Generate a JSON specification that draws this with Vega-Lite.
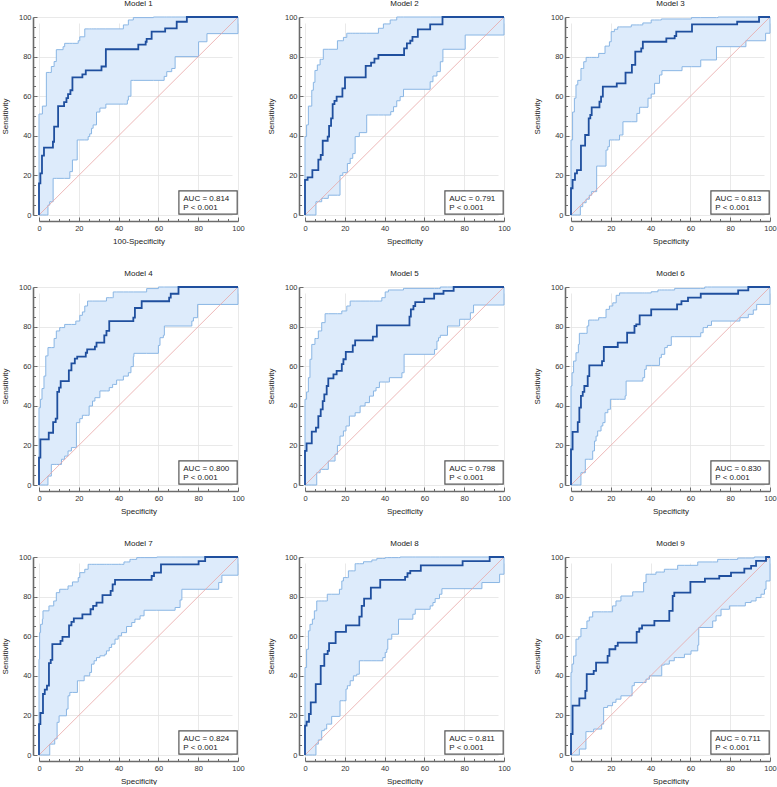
{
  "$schema": "https://vega.github.io/schema/vega-lite/v6.json",
  "autosize": {"type": "pad"},
  "padding": {"left": 1, "top": 0, "right": 0, "bottom": 0},
  "background": "white",
  "datasets": {
    "auc": [
      {"model": 1, "auc": "AUC = 0.814", "p": "P < 0.001"},
      {"model": 2, "auc": "AUC = 0.791", "p": "P < 0.001"},
      {"model": 3, "auc": "AUC = 0.813", "p": "P < 0.001"},
      {"model": 4, "auc": "AUC = 0.800", "p": "P < 0.001"},
      {"model": 5, "auc": "AUC = 0.798", "p": "P < 0.001"},
      {"model": 6, "auc": "AUC = 0.830", "p": "P < 0.001"},
      {"model": 7, "auc": "AUC = 0.824", "p": "P < 0.001"},
      {"model": 8, "auc": "AUC = 0.811", "p": "P < 0.001"},
      {"model": 9, "auc": "AUC = 0.711", "p": "P < 0.001"}
    ],
    "roc": [
      {"model":1,"x":0,"y":0},{"model":1,"x":0,"y":16},{"model":1,"x":0.7,"y":21},{"model":1,"x":1.5,"y":30},{"model":1,"x":2.5,"y":34},{"model":1,"x":7,"y":37},{"model":1,"x":7.6,"y":44.6},{"model":1,"x":9.6,"y":55},{"model":1,"x":12.6,"y":57},{"model":1,"x":13.8,"y":59},{"model":1,"x":14.6,"y":61},{"model":1,"x":15.8,"y":63},{"model":1,"x":16.8,"y":69.5},{"model":1,"x":21.8,"y":71},{"model":1,"x":23.5,"y":73},{"model":1,"x":31.4,"y":75},{"model":1,"x":33.6,"y":83.7},{"model":1,"x":49.9,"y":86},{"model":1,"x":53.6,"y":87.5},{"model":1,"x":54.1,"y":89},{"model":1,"x":56.6,"y":92.6},{"model":1,"x":63.4,"y":94.3},{"model":1,"x":69.2,"y":97.6},{"model":1,"x":74.3,"y":100},{"model":1,"x":100,"y":100},
      {"model":2,"x":0,"y":0},{"model":2,"x":0,"y":17.7},{"model":2,"x":1.3,"y":19},{"model":2,"x":3.7,"y":22.7},{"model":2,"x":6.7,"y":28},{"model":2,"x":7.9,"y":30.3},{"model":2,"x":8.9,"y":37.5},{"model":2,"x":11.4,"y":39.6},{"model":2,"x":12.1,"y":45},{"model":2,"x":13.1,"y":48.8},{"model":2,"x":13.9,"y":56},{"model":2,"x":14.8,"y":57.6},{"model":2,"x":15.9,"y":59.8},{"model":2,"x":18.8,"y":64},{"model":2,"x":20.1,"y":69.5},{"model":2,"x":30.5,"y":75.3},{"model":2,"x":33.2,"y":77},{"model":2,"x":34.9,"y":79},{"model":2,"x":36.9,"y":80.8},{"model":2,"x":49.8,"y":84.2},{"model":2,"x":51.2,"y":86.7},{"model":2,"x":52.9,"y":88},{"model":2,"x":54,"y":90},{"model":2,"x":56.7,"y":93.8},{"model":2,"x":62.9,"y":96.3},{"model":2,"x":69.1,"y":100},{"model":2,"x":100,"y":100},
      {"model":3,"x":0,"y":0},{"model":3,"x":0,"y":13.5},{"model":3,"x":0.8,"y":17.7},{"model":3,"x":2,"y":21},{"model":3,"x":3,"y":22.7},{"model":3,"x":5,"y":35},{"model":3,"x":7.1,"y":40.4},{"model":3,"x":8.9,"y":48.8},{"model":3,"x":9.7,"y":50.5},{"model":3,"x":10.4,"y":54.4},{"model":3,"x":14.3,"y":57.2},{"model":3,"x":15.1,"y":59.8},{"model":3,"x":16,"y":64.8},{"model":3,"x":23,"y":66.5},{"model":3,"x":27.4,"y":71.9},{"model":3,"x":30.6,"y":75.8},{"model":3,"x":32.3,"y":82.5},{"model":3,"x":35.3,"y":84.2},{"model":3,"x":36.1,"y":87.5},{"model":3,"x":47.9,"y":89.2},{"model":3,"x":52.1,"y":90.4},{"model":3,"x":52.9,"y":92.6},{"model":3,"x":60.8,"y":96.3},{"model":3,"x":83.5,"y":97.6},{"model":3,"x":94.5,"y":100},{"model":3,"x":100,"y":100},
      {"model":4,"x":0,"y":0},{"model":4,"x":0,"y":13.8},{"model":4,"x":0.7,"y":23},{"model":4,"x":4.9,"y":26.4},{"model":4,"x":7.1,"y":31.8},{"model":4,"x":8.4,"y":33.5},{"model":4,"x":9.2,"y":47},{"model":4,"x":10.1,"y":49.2},{"model":4,"x":10.9,"y":52.5},{"model":4,"x":15,"y":57.9},{"model":4,"x":16.3,"y":61.4},{"model":4,"x":18,"y":63.8},{"model":4,"x":19.2,"y":64.8},{"model":4,"x":23.5,"y":66.8},{"model":4,"x":24.2,"y":68.5},{"model":4,"x":28.1,"y":69.9},{"model":4,"x":28.9,"y":71.9},{"model":4,"x":32.8,"y":75.6},{"model":4,"x":33.9,"y":77.8},{"model":4,"x":35.3,"y":82.8},{"model":4,"x":47.4,"y":84.5},{"model":4,"x":48.2,"y":89.4},{"model":4,"x":51.6,"y":92.8},{"model":4,"x":65.4,"y":94.6},{"model":4,"x":66.2,"y":96.6},{"model":4,"x":70.1,"y":100},{"model":4,"x":100,"y":100},
      {"model":5,"x":0,"y":0},{"model":5,"x":0,"y":17.2},{"model":5,"x":0.8,"y":21},{"model":5,"x":3.4,"y":27},{"model":5,"x":5.5,"y":29},{"model":5,"x":6.7,"y":34.8},{"model":5,"x":7.9,"y":38.2},{"model":5,"x":8.9,"y":42.4},{"model":5,"x":9.7,"y":45.8},{"model":5,"x":10.9,"y":50},{"model":5,"x":11.7,"y":53.9},{"model":5,"x":14.3,"y":55.9},{"model":5,"x":15.9,"y":57.6},{"model":5,"x":18.5,"y":61},{"model":5,"x":19.3,"y":63.5},{"model":5,"x":20.5,"y":67.2},{"model":5,"x":24,"y":70.5},{"model":5,"x":25.2,"y":73},{"model":5,"x":34.1,"y":74.9},{"model":5,"x":36.1,"y":80.6},{"model":5,"x":52.5,"y":85},{"model":5,"x":53.2,"y":88.7},{"model":5,"x":54.5,"y":90.4},{"model":5,"x":55.4,"y":92.4},{"model":5,"x":59.9,"y":94.1},{"model":5,"x":64.9,"y":96.6},{"model":5,"x":69.6,"y":98},{"model":5,"x":74.7,"y":100},{"model":5,"x":100,"y":100},
      {"model":6,"x":0,"y":0},{"model":6,"x":0,"y":18},{"model":6,"x":0.8,"y":26.8},{"model":6,"x":3.4,"y":31.8},{"model":6,"x":4.2,"y":39.1},{"model":6,"x":5,"y":45},{"model":6,"x":5.9,"y":47},{"model":6,"x":6.7,"y":50},{"model":6,"x":8.4,"y":55},{"model":6,"x":9.2,"y":60.4},{"model":6,"x":15.6,"y":62.6},{"model":6,"x":16.5,"y":69.7},{"model":6,"x":23.5,"y":71.9},{"model":6,"x":28.2,"y":76.9},{"model":6,"x":31.9,"y":80.3},{"model":6,"x":32.8,"y":81.1},{"model":6,"x":34.5,"y":85.7},{"model":6,"x":40.3,"y":88.7},{"model":6,"x":53.3,"y":91.2},{"model":6,"x":55.5,"y":92.9},{"model":6,"x":58.8,"y":94.6},{"model":6,"x":65.2,"y":96.6},{"model":6,"x":84,"y":98.3},{"model":6,"x":89.1,"y":100},{"model":6,"x":100,"y":100},
      {"model":7,"x":0,"y":0},{"model":7,"x":0,"y":15.6},{"model":7,"x":0.7,"y":21.2},{"model":7,"x":2,"y":30.8},{"model":7,"x":2.9,"y":33},{"model":7,"x":4,"y":35},{"model":7,"x":5,"y":46.4},{"model":7,"x":5.9,"y":48},{"model":7,"x":6.7,"y":56},{"model":7,"x":10.8,"y":57.6},{"model":7,"x":11.8,"y":59.7},{"model":7,"x":15.1,"y":65.5},{"model":7,"x":16.3,"y":67.2},{"model":7,"x":17.5,"y":69},{"model":7,"x":21.8,"y":71},{"model":7,"x":25.9,"y":73.6},{"model":7,"x":27.2,"y":75.3},{"model":7,"x":28.9,"y":77},{"model":7,"x":31.9,"y":80.7},{"model":7,"x":36,"y":82.9},{"model":7,"x":37,"y":86.2},{"model":7,"x":38.2,"y":88.4},{"model":7,"x":56.6,"y":90.4},{"model":7,"x":57.8,"y":92.1},{"model":7,"x":61.3,"y":96.3},{"model":7,"x":80.2,"y":97.9},{"model":7,"x":83.5,"y":100},{"model":7,"x":100,"y":100},
      {"model":8,"x":0,"y":0},{"model":8,"x":0,"y":14.8},{"model":8,"x":0.8,"y":16.8},{"model":8,"x":2,"y":20.7},{"model":8,"x":2.9,"y":26.6},{"model":8,"x":5.4,"y":35.8},{"model":8,"x":7.9,"y":45},{"model":8,"x":9.7,"y":50.9},{"model":8,"x":11.4,"y":52.6},{"model":8,"x":12.1,"y":56.5},{"model":8,"x":15.4,"y":62.2},{"model":8,"x":20.6,"y":65.5},{"model":8,"x":27.3,"y":69.9},{"model":8,"x":28.5,"y":75.3},{"model":8,"x":29.7,"y":79},{"model":8,"x":33.1,"y":84.5},{"model":8,"x":37.8,"y":88.4},{"model":8,"x":50.3,"y":90},{"model":8,"x":51.5,"y":91.8},{"model":8,"x":52.9,"y":93},{"model":8,"x":58.2,"y":95.8},{"model":8,"x":79.2,"y":97.9},{"model":8,"x":92.8,"y":100},{"model":8,"x":100,"y":100},
      {"model":9,"x":0,"y":0},{"model":9,"x":0,"y":10.6},{"model":9,"x":0.8,"y":24.9},{"model":9,"x":4.2,"y":28.6},{"model":9,"x":7.2,"y":32.4},{"model":9,"x":7.9,"y":40.8},{"model":9,"x":11.4,"y":42.5},{"model":9,"x":12.6,"y":46.7},{"model":9,"x":18.4,"y":50.1},{"model":9,"x":19.3,"y":53.4},{"model":9,"x":22.3,"y":55.1},{"model":9,"x":23.5,"y":56.8},{"model":9,"x":33,"y":62.2},{"model":9,"x":34.3,"y":63.9},{"model":9,"x":35.7,"y":65.5},{"model":9,"x":41.9,"y":67.7},{"model":9,"x":49.4,"y":72.8},{"model":9,"x":51.1,"y":80.3},{"model":9,"x":51.9,"y":82},{"model":9,"x":60,"y":87.4},{"model":9,"x":67.3,"y":89.1},{"model":9,"x":74.5,"y":90.4},{"model":9,"x":80.4,"y":92.1},{"model":9,"x":87.1,"y":94.1},{"model":9,"x":90.5,"y":95.5},{"model":9,"x":93,"y":98},{"model":9,"x":98,"y":100},{"model":9,"x":100,"y":100}
    ],
    "ci": [
      {"model":1,"x":0,"upper":0,"lower":0},{"model":1,"x":0,"upper":51,"lower":0},{"model":1,"x":1.7,"upper":55,"lower":0},{"model":1,"x":3.7,"upper":72,"lower":0},{"model":1,"x":4.5,"upper":72,"lower":5},{"model":1,"x":5.4,"upper":72,"lower":6.7},{"model":1,"x":6.2,"upper":75,"lower":6.7},{"model":1,"x":7.1,"upper":75,"lower":18.5},{"model":1,"x":7.6,"upper":77.5,"lower":18.5},{"model":1,"x":8.7,"upper":83.5,"lower":18.5},{"model":1,"x":12.1,"upper":85,"lower":18.5},{"model":1,"x":12.9,"upper":86.7,"lower":18.5},{"model":1,"x":15.5,"upper":86.7,"lower":21.9},{"model":1,"x":16.8,"upper":86.7,"lower":27.8},{"model":1,"x":19.2,"upper":86.7,"lower":37.9},{"model":1,"x":19.7,"upper":88,"lower":37.9},{"model":1,"x":20.5,"upper":90,"lower":37.9},{"model":1,"x":23,"upper":94,"lower":37.9},{"model":1,"x":24.7,"upper":94,"lower":39.6},{"model":1,"x":25.5,"upper":94,"lower":41},{"model":1,"x":26.4,"upper":94,"lower":43.8},{"model":1,"x":27.2,"upper":94,"lower":45.5},{"model":1,"x":28.9,"upper":94,"lower":52},{"model":1,"x":30.6,"upper":94,"lower":54},{"model":1,"x":33.6,"upper":94,"lower":56},{"model":1,"x":42.4,"upper":96,"lower":56},{"model":1,"x":44.4,"upper":96,"lower":58},{"model":1,"x":44.9,"upper":98.5,"lower":60},{"model":1,"x":46.2,"upper":98.5,"lower":68},{"model":1,"x":47.4,"upper":99.7,"lower":68},{"model":1,"x":57.5,"upper":100,"lower":68},{"model":1,"x":62.9,"upper":100,"lower":70},{"model":1,"x":64.2,"upper":100,"lower":72.4},{"model":1,"x":66.7,"upper":100,"lower":74},{"model":1,"x":68.4,"upper":100,"lower":80},{"model":1,"x":80.2,"upper":100,"lower":87.5},{"model":1,"x":84.4,"upper":100,"lower":91.6},{"model":1,"x":100,"upper":100,"lower":100},
      {"model":2,"x":0,"upper":0,"lower":0},{"model":2,"x":0,"upper":39.6,"lower":0},{"model":2,"x":0.8,"upper":45.5,"lower":0},{"model":2,"x":1.7,"upper":55,"lower":0},{"model":2,"x":3.4,"upper":63,"lower":0},{"model":2,"x":4.2,"upper":67,"lower":0},{"model":2,"x":5,"upper":73,"lower":0},{"model":2,"x":5.5,"upper":73,"lower":6.7},{"model":2,"x":6.2,"upper":75.8,"lower":6.7},{"model":2,"x":7.6,"upper":78.6,"lower":6.7},{"model":2,"x":8.4,"upper":78.6,"lower":8.4},{"model":2,"x":9.2,"upper":83.7,"lower":8.4},{"model":2,"x":11.7,"upper":83.7,"lower":10},{"model":2,"x":16.3,"upper":88,"lower":10},{"model":2,"x":17.6,"upper":88,"lower":20},{"model":2,"x":19,"upper":88,"lower":21.4},{"model":2,"x":19.3,"upper":89.7,"lower":21.4},{"model":2,"x":21,"upper":91.8,"lower":21.4},{"model":2,"x":21.3,"upper":91.8,"lower":26},{"model":2,"x":22.7,"upper":91.8,"lower":28.6},{"model":2,"x":24,"upper":91.8,"lower":31},{"model":2,"x":25.2,"upper":91.8,"lower":39.6},{"model":2,"x":27.3,"upper":91.8,"lower":41.6},{"model":2,"x":31,"upper":91.8,"lower":50.5},{"model":2,"x":36.9,"upper":94.3,"lower":50.5},{"model":2,"x":39.4,"upper":96.5,"lower":50.5},{"model":2,"x":42.8,"upper":98.5,"lower":50.5},{"model":2,"x":43.1,"upper":98.5,"lower":52.2},{"model":2,"x":44.5,"upper":98.5,"lower":54.7},{"model":2,"x":46.1,"upper":100,"lower":57.7},{"model":2,"x":47.8,"upper":100,"lower":59.8},{"model":2,"x":49.5,"upper":100,"lower":63.5},{"model":2,"x":62.9,"upper":100,"lower":67.3},{"model":2,"x":64.3,"upper":100,"lower":70.2},{"model":2,"x":66.3,"upper":100,"lower":72.4},{"model":2,"x":68,"upper":100,"lower":77.4},{"model":2,"x":69.3,"upper":100,"lower":83.7},{"model":2,"x":80.5,"upper":100,"lower":90.9},{"model":2,"x":100,"upper":100,"lower":100},
      {"model":3,"x":0,"upper":0,"lower":0},{"model":3,"x":0,"upper":37.9,"lower":0},{"model":3,"x":0.8,"upper":52,"lower":0},{"model":3,"x":1.7,"upper":59,"lower":0},{"model":3,"x":2.5,"upper":65.7,"lower":0},{"model":3,"x":3.4,"upper":68,"lower":0},{"model":3,"x":4.7,"upper":68,"lower":4.2},{"model":3,"x":5,"upper":74,"lower":4.2},{"model":3,"x":5.9,"upper":74,"lower":6.2},{"model":3,"x":6.4,"upper":77.4,"lower":6.2},{"model":3,"x":7.6,"upper":79.6,"lower":8},{"model":3,"x":9.2,"upper":79.6,"lower":10},{"model":3,"x":10.4,"upper":79.6,"lower":11.8},{"model":3,"x":12.9,"upper":79.6,"lower":24.7},{"model":3,"x":13.9,"upper":81.6,"lower":24.7},{"model":3,"x":17.1,"upper":85.3,"lower":24.7},{"model":3,"x":17.6,"upper":85.3,"lower":32.8},{"model":3,"x":18.5,"upper":85.3,"lower":34.5},{"model":3,"x":19.3,"upper":87.5,"lower":37.9},{"model":3,"x":20.2,"upper":92.6,"lower":37.9},{"model":3,"x":21.8,"upper":93.8,"lower":37.9},{"model":3,"x":23.5,"upper":95,"lower":37.9},{"model":3,"x":24.4,"upper":95,"lower":40.4},{"model":3,"x":26.1,"upper":95,"lower":47.1},{"model":3,"x":30.3,"upper":96,"lower":47.1},{"model":3,"x":33.1,"upper":96,"lower":51.3},{"model":3,"x":34.5,"upper":96,"lower":54.4},{"model":3,"x":36.1,"upper":97,"lower":54.4},{"model":3,"x":38.7,"upper":97,"lower":59},{"model":3,"x":40.3,"upper":98.5,"lower":61.1},{"model":3,"x":42,"upper":98.5,"lower":66.5},{"model":3,"x":44.5,"upper":98.5,"lower":70.7},{"model":3,"x":45.4,"upper":99,"lower":70.7},{"model":3,"x":45.7,"upper":99,"lower":72.9},{"model":3,"x":55.8,"upper":99,"lower":74.9},{"model":3,"x":60.5,"upper":99.7,"lower":74.9},{"model":3,"x":65.2,"upper":99.7,"lower":78.3},{"model":3,"x":73.1,"upper":99.7,"lower":85},{"model":3,"x":73.9,"upper":100,"lower":85},{"model":3,"x":87.9,"upper":100,"lower":88},{"model":3,"x":97.8,"upper":100,"lower":91.8},{"model":3,"x":100,"upper":100,"lower":100},
      {"model":4,"x":0,"upper":0,"lower":0},{"model":4,"x":0,"upper":39,"lower":0},{"model":4,"x":0.7,"upper":43.3,"lower":0},{"model":4,"x":1.5,"upper":48.7,"lower":0},{"model":4,"x":2.5,"upper":55,"lower":0},{"model":4,"x":3.4,"upper":65.2,"lower":0},{"model":4,"x":4.5,"upper":69.4,"lower":4.5},{"model":4,"x":6.2,"upper":69.4,"lower":10.4},{"model":4,"x":7.6,"upper":74,"lower":10.4},{"model":4,"x":8.7,"upper":77.8,"lower":10.4},{"model":4,"x":10.4,"upper":79.5,"lower":10.4},{"model":4,"x":11.3,"upper":79.5,"lower":13},{"model":4,"x":12.9,"upper":81.1,"lower":14.6},{"model":4,"x":14.6,"upper":81.1,"lower":17.2},{"model":4,"x":16.3,"upper":81.1,"lower":18.9},{"model":4,"x":18.5,"upper":82.8,"lower":18.9},{"model":4,"x":18.8,"upper":82.8,"lower":31.5},{"model":4,"x":20.5,"upper":85.7,"lower":33.5},{"model":4,"x":21.8,"upper":87.4,"lower":35.2},{"model":4,"x":23,"upper":90.4,"lower":35.2},{"model":4,"x":24.4,"upper":92.9,"lower":35.2},{"model":4,"x":25.2,"upper":92.9,"lower":39.9},{"model":4,"x":26.9,"upper":92.9,"lower":42.4},{"model":4,"x":28.1,"upper":92.9,"lower":44.1},{"model":4,"x":30.6,"upper":92.9,"lower":47.5},{"model":4,"x":33.9,"upper":94.6,"lower":47.5},{"model":4,"x":35.3,"upper":94.6,"lower":49.2},{"model":4,"x":37,"upper":94.6,"lower":50.8},{"model":4,"x":37.3,"upper":97.5,"lower":50.8},{"model":4,"x":39,"upper":97.5,"lower":53},{"model":4,"x":42.4,"upper":97.5,"lower":55},{"model":4,"x":44.9,"upper":97.5,"lower":56.7},{"model":4,"x":46.2,"upper":97.5,"lower":59.8},{"model":4,"x":47.4,"upper":97.5,"lower":64.8},{"model":4,"x":47.7,"upper":97.5,"lower":66.5},{"model":4,"x":54.1,"upper":99.2,"lower":66.5},{"model":4,"x":60,"upper":100,"lower":70.5},{"model":4,"x":60.8,"upper":100,"lower":74.4},{"model":4,"x":62.5,"upper":100,"lower":75.6},{"model":4,"x":63,"upper":100,"lower":80.3},{"model":4,"x":76.8,"upper":100,"lower":82.8},{"model":4,"x":77.6,"upper":100,"lower":84.5},{"model":4,"x":79.7,"upper":100,"lower":91.2},{"model":4,"x":100,"upper":100,"lower":100},
      {"model":5,"x":0,"upper":0,"lower":0},{"model":5,"x":0,"upper":43.3,"lower":0},{"model":5,"x":0.8,"upper":47,"lower":0},{"model":5,"x":1.7,"upper":54.2,"lower":0},{"model":5,"x":2.5,"upper":63.5,"lower":0},{"model":5,"x":3.4,"upper":71,"lower":0},{"model":5,"x":5,"upper":74,"lower":0},{"model":5,"x":5.9,"upper":74,"lower":6.2},{"model":5,"x":6.7,"upper":77.8,"lower":6.2},{"model":5,"x":7.6,"upper":77.8,"lower":7.9},{"model":5,"x":8.4,"upper":82,"lower":7.9},{"model":5,"x":10.1,"upper":86.5,"lower":7.9},{"model":5,"x":11.7,"upper":86.5,"lower":12.1},{"model":5,"x":15.1,"upper":86.5,"lower":15.5},{"model":5,"x":16.3,"upper":86.5,"lower":20},{"model":5,"x":17.6,"upper":86.5,"lower":24.7},{"model":5,"x":18.5,"upper":87.9,"lower":24.7},{"model":5,"x":19.3,"upper":87.9,"lower":27.3},{"model":5,"x":20.6,"upper":87.9,"lower":29.8},{"model":5,"x":21,"upper":90.4,"lower":29.8},{"model":5,"x":22.3,"upper":90.4,"lower":34.8},{"model":5,"x":22.7,"upper":92.9,"lower":34.8},{"model":5,"x":25.2,"upper":92.9,"lower":36.5},{"model":5,"x":27.7,"upper":92.9,"lower":39.9},{"model":5,"x":30.2,"upper":92.9,"lower":41.6},{"model":5,"x":32.4,"upper":92.9,"lower":44.9},{"model":5,"x":34.4,"upper":92.9,"lower":47.5},{"model":5,"x":35.7,"upper":92.9,"lower":49.2},{"model":5,"x":37.4,"upper":92.9,"lower":52},{"model":5,"x":38.6,"upper":94.6,"lower":52},{"model":5,"x":40.3,"upper":97.5,"lower":52},{"model":5,"x":41.9,"upper":98.5,"lower":52},{"model":5,"x":42.4,"upper":98.5,"lower":54.2},{"model":5,"x":48.7,"upper":98.5,"lower":56.7},{"model":5,"x":49.5,"upper":99.3,"lower":56.7},{"model":5,"x":49.8,"upper":99.3,"lower":66},{"model":5,"x":65.1,"upper":99.3,"lower":68.5},{"model":5,"x":66.3,"upper":99.3,"lower":72.7},{"model":5,"x":67.1,"upper":99.3,"lower":74.4},{"model":5,"x":68,"upper":100,"lower":75.6},{"model":5,"x":71.6,"upper":100,"lower":80.3},{"model":5,"x":77.7,"upper":100,"lower":83.7},{"model":5,"x":83.1,"upper":100,"lower":87},{"model":5,"x":84.7,"upper":100,"lower":90.9},{"model":5,"x":100,"upper":100,"lower":100},
      {"model":6,"x":0,"upper":0,"lower":0},{"model":6,"x":0,"upper":50,"lower":0},{"model":6,"x":0.5,"upper":56.7,"lower":0},{"model":6,"x":1.3,"upper":62.6,"lower":0},{"model":6,"x":2.5,"upper":66.8,"lower":0},{"model":6,"x":3.7,"upper":71,"lower":0},{"model":6,"x":4.2,"upper":76.6,"lower":0},{"model":6,"x":5,"upper":76.6,"lower":6.2},{"model":6,"x":7.2,"upper":76.6,"lower":13},{"model":6,"x":8.1,"upper":80.3,"lower":13},{"model":6,"x":8.9,"upper":83.3,"lower":13},{"model":6,"x":10.9,"upper":83.3,"lower":17.2},{"model":6,"x":11.8,"upper":83.3,"lower":22.2},{"model":6,"x":12.6,"upper":83.3,"lower":24.7},{"model":6,"x":13.4,"upper":83.3,"lower":27.3},{"model":6,"x":13.9,"upper":84.5,"lower":27.3},{"model":6,"x":15.1,"upper":84.5,"lower":29.8},{"model":6,"x":16,"upper":84.5,"lower":31.5},{"model":6,"x":17.1,"upper":84.5,"lower":36.5},{"model":6,"x":17.6,"upper":88.7,"lower":36.5},{"model":6,"x":18.5,"upper":88.7,"lower":38.2},{"model":6,"x":19.3,"upper":90.4,"lower":38.2},{"model":6,"x":19.8,"upper":90.4,"lower":43.3},{"model":6,"x":21,"upper":92,"lower":43.3},{"model":6,"x":22.7,"upper":95.8,"lower":43.3},{"model":6,"x":24.4,"upper":97,"lower":43.3},{"model":6,"x":27.2,"upper":97,"lower":45},{"model":6,"x":27.7,"upper":97,"lower":52.5},{"model":6,"x":36.1,"upper":97,"lower":54.2},{"model":6,"x":37,"upper":97,"lower":58.4},{"model":6,"x":37.8,"upper":97,"lower":60.4},{"model":6,"x":40.3,"upper":97.6,"lower":60.4},{"model":6,"x":43.7,"upper":98.5,"lower":60.4},{"model":6,"x":44.5,"upper":98.5,"lower":64.3},{"model":6,"x":45.4,"upper":98.5,"lower":66},{"model":6,"x":47.1,"upper":98.5,"lower":69.4},{"model":6,"x":48.4,"upper":98.5,"lower":70.5},{"model":6,"x":50.4,"upper":98.5,"lower":74.9},{"model":6,"x":52.1,"upper":99.3,"lower":74.9},{"model":6,"x":65.2,"upper":99.3,"lower":76.9},{"model":6,"x":66.4,"upper":99.3,"lower":79.5},{"model":6,"x":67.2,"upper":100,"lower":79.5},{"model":6,"x":68.6,"upper":100,"lower":80.6},{"model":6,"x":70.6,"upper":100,"lower":82.8},{"model":6,"x":84.9,"upper":100,"lower":84.5},{"model":6,"x":89.1,"upper":100,"lower":86.2},{"model":6,"x":91.6,"upper":100,"lower":88.4},{"model":6,"x":93.3,"upper":100,"lower":91.2},{"model":6,"x":100,"upper":100,"lower":100},
      {"model":7,"x":0,"upper":0,"lower":0},{"model":7,"x":0,"upper":48.4,"lower":0},{"model":7,"x":0.3,"upper":61.8,"lower":0},{"model":7,"x":0.8,"upper":66,"lower":0},{"model":7,"x":1.7,"upper":68.6,"lower":0},{"model":7,"x":2,"upper":72.8,"lower":0},{"model":7,"x":5,"upper":75.3,"lower":0},{"model":7,"x":5.4,"upper":75.3,"lower":5.5},{"model":7,"x":7.4,"upper":77.8,"lower":5.5},{"model":7,"x":7.9,"upper":77.8,"lower":8.1},{"model":7,"x":8.7,"upper":82,"lower":8.1},{"model":7,"x":9.1,"upper":82,"lower":16.5},{"model":7,"x":10.1,"upper":82,"lower":19.8},{"model":7,"x":10.4,"upper":83.7,"lower":19.8},{"model":7,"x":13.8,"upper":83.7,"lower":23.2},{"model":7,"x":14.6,"upper":85.4,"lower":29.9},{"model":7,"x":15.5,"upper":85.4,"lower":31.6},{"model":7,"x":16.8,"upper":87.4,"lower":31.6},{"model":7,"x":19.3,"upper":87.4,"lower":37.5},{"model":7,"x":19.7,"upper":89.6,"lower":37.5},{"model":7,"x":20.5,"upper":92.1,"lower":37.5},{"model":7,"x":22.7,"upper":92.1,"lower":40},{"model":7,"x":23,"upper":93.8,"lower":40},{"model":7,"x":24.7,"upper":96.3,"lower":40},{"model":7,"x":25.5,"upper":96.3,"lower":41.7},{"model":7,"x":26.4,"upper":96.3,"lower":45.9},{"model":7,"x":27.7,"upper":96.3,"lower":47.6},{"model":7,"x":28.9,"upper":96.3,"lower":49.2},{"model":7,"x":30.6,"upper":96.3,"lower":50.1},{"model":7,"x":33.1,"upper":96.3,"lower":50.9},{"model":7,"x":33.9,"upper":96.3,"lower":52.6},{"model":7,"x":35.3,"upper":96.3,"lower":54.3},{"model":7,"x":36.5,"upper":96.3,"lower":56},{"model":7,"x":38.2,"upper":96.3,"lower":58.5},{"model":7,"x":39.8,"upper":96.3,"lower":60.2},{"model":7,"x":41.5,"upper":96.3,"lower":61.8},{"model":7,"x":42.7,"upper":97.5,"lower":61.8},{"model":7,"x":44,"upper":97.5,"lower":64.9},{"model":7,"x":45.7,"upper":98.8,"lower":64.9},{"model":7,"x":46.6,"upper":98.8,"lower":66.9},{"model":7,"x":48.2,"upper":98.8,"lower":68.6},{"model":7,"x":49.1,"upper":99.7,"lower":68.6},{"model":7,"x":50.8,"upper":99.7,"lower":70.3},{"model":7,"x":52.8,"upper":99.7,"lower":73.1},{"model":7,"x":59.2,"upper":100,"lower":73.1},{"model":7,"x":68.4,"upper":100,"lower":74.5},{"model":7,"x":70.9,"upper":100,"lower":78.3},{"model":7,"x":71.8,"upper":100,"lower":83.7},{"model":7,"x":90.3,"upper":100,"lower":87.1},{"model":7,"x":91.9,"upper":100,"lower":90.8},{"model":7,"x":100,"upper":100,"lower":100},
      {"model":8,"x":0,"upper":0,"lower":0},{"model":8,"x":0,"upper":44.2,"lower":0},{"model":8,"x":0.8,"upper":53.4,"lower":0},{"model":8,"x":1.7,"upper":62.7,"lower":0},{"model":8,"x":2.5,"upper":66,"lower":0},{"model":8,"x":3.7,"upper":68.6,"lower":0},{"model":8,"x":4.7,"upper":72.8,"lower":0},{"model":8,"x":5.5,"upper":72.8,"lower":5.5},{"model":8,"x":5.9,"upper":77.8,"lower":5.5},{"model":8,"x":6.7,"upper":77.8,"lower":7.6},{"model":8,"x":8.4,"upper":77.8,"lower":12.3},{"model":8,"x":9.7,"upper":77.8,"lower":13.1},{"model":8,"x":10.9,"upper":77.8,"lower":15.6},{"model":8,"x":11.2,"upper":81.2,"lower":15.6},{"model":8,"x":13.4,"upper":81.2,"lower":19.5},{"model":8,"x":17.3,"upper":83.7,"lower":19.5},{"model":8,"x":17.6,"upper":83.7,"lower":27.4},{"model":8,"x":18.5,"upper":87.9,"lower":27.4},{"model":8,"x":19.3,"upper":89.6,"lower":27.4},{"model":8,"x":20.6,"upper":89.6,"lower":33.3},{"model":8,"x":21.3,"upper":89.6,"lower":35},{"model":8,"x":21.8,"upper":93,"lower":35},{"model":8,"x":22.7,"upper":93,"lower":37.5},{"model":8,"x":24.3,"upper":93,"lower":40},{"model":8,"x":25.2,"upper":96.6,"lower":40},{"model":8,"x":26,"upper":96.6,"lower":40.8},{"model":8,"x":27.3,"upper":96.6,"lower":47.6},{"model":8,"x":29.4,"upper":97.6,"lower":47.6},{"model":8,"x":33.6,"upper":98.5,"lower":47.6},{"model":8,"x":36.1,"upper":99.3,"lower":47.6},{"model":8,"x":39.1,"upper":99.3,"lower":49.2},{"model":8,"x":40.3,"upper":99.7,"lower":51.8},{"model":8,"x":41.1,"upper":99.7,"lower":53.4},{"model":8,"x":41.6,"upper":99.7,"lower":58.5},{"model":8,"x":43.6,"upper":99.7,"lower":61},{"model":8,"x":47,"upper":99.7,"lower":68.6},{"model":8,"x":47.8,"upper":100,"lower":68.6},{"model":8,"x":54.2,"upper":100,"lower":71.1},{"model":8,"x":55.4,"upper":100,"lower":73.6},{"model":8,"x":62.9,"upper":100,"lower":75.3},{"model":8,"x":64.3,"upper":100,"lower":77},{"model":8,"x":65.4,"upper":100,"lower":79},{"model":8,"x":67.6,"upper":100,"lower":81.2},{"model":8,"x":68.8,"upper":100,"lower":84},{"model":8,"x":88.9,"upper":100,"lower":87.1},{"model":8,"x":97.8,"upper":100,"lower":91.3},{"model":8,"x":100,"upper":100,"lower":100},
      {"model":9,"x":0,"upper":0,"lower":0},{"model":9,"x":0,"upper":41.7,"lower":0},{"model":9,"x":0.5,"upper":45.9,"lower":0},{"model":9,"x":1.3,"upper":50,"lower":0},{"model":9,"x":2.5,"upper":58.5,"lower":0},{"model":9,"x":3.9,"upper":59.7,"lower":0},{"model":9,"x":4.2,"upper":59.7,"lower":3},{"model":9,"x":5,"upper":63.9,"lower":3},{"model":9,"x":7.5,"upper":63.9,"lower":11.8},{"model":9,"x":8,"upper":67.7,"lower":11.8},{"model":9,"x":9.2,"upper":69.7,"lower":11.8},{"model":9,"x":10.9,"upper":72.3,"lower":11.8},{"model":9,"x":11.4,"upper":72.3,"lower":13.1},{"model":9,"x":15.4,"upper":72.3,"lower":15.6},{"model":9,"x":16.4,"upper":72.3,"lower":24},{"model":9,"x":18.4,"upper":72.3,"lower":24.9},{"model":9,"x":20.9,"upper":75.3,"lower":26.6},{"model":9,"x":22.6,"upper":77.8,"lower":28.2},{"model":9,"x":25.1,"upper":80.3,"lower":29.9},{"model":9,"x":30.7,"upper":80.3,"lower":35},{"model":9,"x":31,"upper":82.4,"lower":35},{"model":9,"x":31.8,"upper":82.4,"lower":36.6},{"model":9,"x":36.5,"upper":87.1,"lower":36.6},{"model":9,"x":37.7,"upper":91.3,"lower":38.3},{"model":9,"x":39.4,"upper":91.3,"lower":40},{"model":9,"x":42.7,"upper":92.4,"lower":40},{"model":9,"x":45.6,"upper":92.4,"lower":45.4},{"model":9,"x":46.9,"upper":93.8,"lower":45.9},{"model":9,"x":49.4,"upper":93.8,"lower":47.6},{"model":9,"x":51.9,"upper":93.8,"lower":49.2},{"model":9,"x":53.6,"upper":95.8,"lower":49.2},{"model":9,"x":57,"upper":95.8,"lower":50.9},{"model":9,"x":60.3,"upper":95.8,"lower":52.6},{"model":9,"x":63.7,"upper":97.5,"lower":55.5},{"model":9,"x":64.2,"upper":97.5,"lower":64.4},{"model":9,"x":71.2,"upper":97.5,"lower":67.7},{"model":9,"x":72.9,"upper":97.5,"lower":70.3},{"model":9,"x":73.7,"upper":98.8,"lower":70.3},{"model":9,"x":75.4,"upper":98.8,"lower":73.6},{"model":9,"x":79.6,"upper":98.8,"lower":75.3},{"model":9,"x":83.8,"upper":99.5,"lower":75.3},{"model":9,"x":87.6,"upper":99.5,"lower":77},{"model":9,"x":90.5,"upper":99.5,"lower":77.8},{"model":9,"x":92.1,"upper":100,"lower":77.8},{"model":9,"x":93,"upper":100,"lower":79.5},{"model":9,"x":95.5,"upper":100,"lower":81.2},{"model":9,"x":97.2,"upper":100,"lower":83.7},{"model":9,"x":98,"upper":100,"lower":87.9},{"model":9,"x":100,"upper":100,"lower":100}
    ]
  },
  "columns": 3,
  "spacing": {"column": 67, "row": 72},
  "bounds": "flush",
  "concat": [
    {"title": "Model 1", "width": 199, "height": 198,
     "layer": [
      {"data": {"name": "ci"}, "transform": [{"filter": "datum.model == 1"}], "mark": {"type": "area", "interpolate": "step-after", "color": "#ddebfb"}, "encoding": {"x": {"field": "x", "type": "quantitative", "scale": {"domain": [0, 100]}, "axis": {"title": "100-Specificity"}}, "y": {"field": "upper", "type": "quantitative", "scale": {"domain": [0, 100]}, "axis": {"title": "Sensitivity"}}, "y2": {"field": "lower"}}},
      {"data": {"name": "ci"}, "transform": [{"filter": "datum.model == 1"}], "mark": {"type": "line", "interpolate": "step-after", "color": "#8ab6e4", "strokeWidth": 1}, "encoding": {"x": {"field": "x", "type": "quantitative"}, "y": {"field": "upper", "type": "quantitative"}}},
      {"data": {"name": "ci"}, "transform": [{"filter": "datum.model == 1"}], "mark": {"type": "line", "interpolate": "step-after", "color": "#8ab6e4", "strokeWidth": 1}, "encoding": {"x": {"field": "x", "type": "quantitative"}, "y": {"field": "lower", "type": "quantitative"}}},
      {"data": {"name": "auc"}, "transform": [{"filter": "datum.model == 1"}], "mark": {"type": "rule", "color": "#e8a6a6", "strokeWidth": 0.8}, "encoding": {"x": {"datum": 0, "type": "quantitative"}, "x2": {"datum": 100}, "y": {"datum": 0, "type": "quantitative"}, "y2": {"datum": 100}}},
      {"data": {"name": "roc"}, "transform": [{"filter": "datum.model == 1"}], "mark": {"type": "line", "interpolate": "step-after", "color": "#1f4f9e", "strokeWidth": 1.8}, "encoding": {"x": {"field": "x", "type": "quantitative"}, "y": {"field": "y", "type": "quantitative"}}},
      {"data": {"name": "auc"}, "transform": [{"filter": "datum.model == 1"}], "mark": {"type": "rect", "fill": "white", "stroke": "#555555", "strokeWidth": 1.2}, "encoding": {"x": {"datum": 70.3, "type": "quantitative"}, "x2": {"datum": 99.6}, "y": {"datum": 0.4, "type": "quantitative"}, "y2": {"datum": 12.2}}},
      {"data": {"name": "auc"}, "transform": [{"filter": "datum.model == 1"}], "mark": {"type": "text", "align": "left", "baseline": "middle", "fontSize": 8, "color": "#222222"}, "encoding": {"x": {"datum": 72.5, "type": "quantitative"}, "y": {"datum": 8.2, "type": "quantitative"}, "text": {"field": "auc"}}},
      {"data": {"name": "auc"}, "transform": [{"filter": "datum.model == 1"}], "mark": {"type": "text", "align": "left", "baseline": "middle", "fontSize": 8, "color": "#222222"}, "encoding": {"x": {"datum": 72.5, "type": "quantitative"}, "y": {"datum": 3.3, "type": "quantitative"}, "text": {"field": "p"}}}
     ]},
    {"title": "Model 2", "width": 199, "height": 198,
     "layer": [
      {"data": {"name": "ci"}, "transform": [{"filter": "datum.model == 2"}], "mark": {"type": "area", "interpolate": "step-after", "color": "#ddebfb"}, "encoding": {"x": {"field": "x", "type": "quantitative", "scale": {"domain": [0, 100]}, "axis": {"title": "Specificity"}}, "y": {"field": "upper", "type": "quantitative", "scale": {"domain": [0, 100]}, "axis": {"title": "Sensitivity"}}, "y2": {"field": "lower"}}},
      {"data": {"name": "ci"}, "transform": [{"filter": "datum.model == 2"}], "mark": {"type": "line", "interpolate": "step-after", "color": "#8ab6e4", "strokeWidth": 1}, "encoding": {"x": {"field": "x", "type": "quantitative"}, "y": {"field": "upper", "type": "quantitative"}}},
      {"data": {"name": "ci"}, "transform": [{"filter": "datum.model == 2"}], "mark": {"type": "line", "interpolate": "step-after", "color": "#8ab6e4", "strokeWidth": 1}, "encoding": {"x": {"field": "x", "type": "quantitative"}, "y": {"field": "lower", "type": "quantitative"}}},
      {"data": {"name": "auc"}, "transform": [{"filter": "datum.model == 2"}], "mark": {"type": "rule", "color": "#e8a6a6", "strokeWidth": 0.8}, "encoding": {"x": {"datum": 0, "type": "quantitative"}, "x2": {"datum": 100}, "y": {"datum": 0, "type": "quantitative"}, "y2": {"datum": 100}}},
      {"data": {"name": "roc"}, "transform": [{"filter": "datum.model == 2"}], "mark": {"type": "line", "interpolate": "step-after", "color": "#1f4f9e", "strokeWidth": 1.8}, "encoding": {"x": {"field": "x", "type": "quantitative"}, "y": {"field": "y", "type": "quantitative"}}},
      {"data": {"name": "auc"}, "transform": [{"filter": "datum.model == 2"}], "mark": {"type": "rect", "fill": "white", "stroke": "#555555", "strokeWidth": 1.2}, "encoding": {"x": {"datum": 70.3, "type": "quantitative"}, "x2": {"datum": 99.6}, "y": {"datum": 0.4, "type": "quantitative"}, "y2": {"datum": 12.2}}},
      {"data": {"name": "auc"}, "transform": [{"filter": "datum.model == 2"}], "mark": {"type": "text", "align": "left", "baseline": "middle", "fontSize": 8, "color": "#222222"}, "encoding": {"x": {"datum": 72.5, "type": "quantitative"}, "y": {"datum": 8.2, "type": "quantitative"}, "text": {"field": "auc"}}},
      {"data": {"name": "auc"}, "transform": [{"filter": "datum.model == 2"}], "mark": {"type": "text", "align": "left", "baseline": "middle", "fontSize": 8, "color": "#222222"}, "encoding": {"x": {"datum": 72.5, "type": "quantitative"}, "y": {"datum": 3.3, "type": "quantitative"}, "text": {"field": "p"}}}
     ]},
    {"title": "Model 3", "width": 199, "height": 198,
     "layer": [
      {"data": {"name": "ci"}, "transform": [{"filter": "datum.model == 3"}], "mark": {"type": "area", "interpolate": "step-after", "color": "#ddebfb"}, "encoding": {"x": {"field": "x", "type": "quantitative", "scale": {"domain": [0, 100]}, "axis": {"title": "Specificity"}}, "y": {"field": "upper", "type": "quantitative", "scale": {"domain": [0, 100]}, "axis": {"title": "Sensitivity"}}, "y2": {"field": "lower"}}},
      {"data": {"name": "ci"}, "transform": [{"filter": "datum.model == 3"}], "mark": {"type": "line", "interpolate": "step-after", "color": "#8ab6e4", "strokeWidth": 1}, "encoding": {"x": {"field": "x", "type": "quantitative"}, "y": {"field": "upper", "type": "quantitative"}}},
      {"data": {"name": "ci"}, "transform": [{"filter": "datum.model == 3"}], "mark": {"type": "line", "interpolate": "step-after", "color": "#8ab6e4", "strokeWidth": 1}, "encoding": {"x": {"field": "x", "type": "quantitative"}, "y": {"field": "lower", "type": "quantitative"}}},
      {"data": {"name": "auc"}, "transform": [{"filter": "datum.model == 3"}], "mark": {"type": "rule", "color": "#e8a6a6", "strokeWidth": 0.8}, "encoding": {"x": {"datum": 0, "type": "quantitative"}, "x2": {"datum": 100}, "y": {"datum": 0, "type": "quantitative"}, "y2": {"datum": 100}}},
      {"data": {"name": "roc"}, "transform": [{"filter": "datum.model == 3"}], "mark": {"type": "line", "interpolate": "step-after", "color": "#1f4f9e", "strokeWidth": 1.8}, "encoding": {"x": {"field": "x", "type": "quantitative"}, "y": {"field": "y", "type": "quantitative"}}},
      {"data": {"name": "auc"}, "transform": [{"filter": "datum.model == 3"}], "mark": {"type": "rect", "fill": "white", "stroke": "#555555", "strokeWidth": 1.2}, "encoding": {"x": {"datum": 70.3, "type": "quantitative"}, "x2": {"datum": 99.6}, "y": {"datum": 0.4, "type": "quantitative"}, "y2": {"datum": 12.2}}},
      {"data": {"name": "auc"}, "transform": [{"filter": "datum.model == 3"}], "mark": {"type": "text", "align": "left", "baseline": "middle", "fontSize": 8, "color": "#222222"}, "encoding": {"x": {"datum": 72.5, "type": "quantitative"}, "y": {"datum": 8.2, "type": "quantitative"}, "text": {"field": "auc"}}},
      {"data": {"name": "auc"}, "transform": [{"filter": "datum.model == 3"}], "mark": {"type": "text", "align": "left", "baseline": "middle", "fontSize": 8, "color": "#222222"}, "encoding": {"x": {"datum": 72.5, "type": "quantitative"}, "y": {"datum": 3.3, "type": "quantitative"}, "text": {"field": "p"}}}
     ]},
    {"title": "Model 4", "width": 199, "height": 198,
     "layer": [
      {"data": {"name": "ci"}, "transform": [{"filter": "datum.model == 4"}], "mark": {"type": "area", "interpolate": "step-after", "color": "#ddebfb"}, "encoding": {"x": {"field": "x", "type": "quantitative", "scale": {"domain": [0, 100]}, "axis": {"title": "Specificity"}}, "y": {"field": "upper", "type": "quantitative", "scale": {"domain": [0, 100]}, "axis": {"title": "Sensitivity"}}, "y2": {"field": "lower"}}},
      {"data": {"name": "ci"}, "transform": [{"filter": "datum.model == 4"}], "mark": {"type": "line", "interpolate": "step-after", "color": "#8ab6e4", "strokeWidth": 1}, "encoding": {"x": {"field": "x", "type": "quantitative"}, "y": {"field": "upper", "type": "quantitative"}}},
      {"data": {"name": "ci"}, "transform": [{"filter": "datum.model == 4"}], "mark": {"type": "line", "interpolate": "step-after", "color": "#8ab6e4", "strokeWidth": 1}, "encoding": {"x": {"field": "x", "type": "quantitative"}, "y": {"field": "lower", "type": "quantitative"}}},
      {"data": {"name": "auc"}, "transform": [{"filter": "datum.model == 4"}], "mark": {"type": "rule", "color": "#e8a6a6", "strokeWidth": 0.8}, "encoding": {"x": {"datum": 0, "type": "quantitative"}, "x2": {"datum": 100}, "y": {"datum": 0, "type": "quantitative"}, "y2": {"datum": 100}}},
      {"data": {"name": "roc"}, "transform": [{"filter": "datum.model == 4"}], "mark": {"type": "line", "interpolate": "step-after", "color": "#1f4f9e", "strokeWidth": 1.8}, "encoding": {"x": {"field": "x", "type": "quantitative"}, "y": {"field": "y", "type": "quantitative"}}},
      {"data": {"name": "auc"}, "transform": [{"filter": "datum.model == 4"}], "mark": {"type": "rect", "fill": "white", "stroke": "#555555", "strokeWidth": 1.2}, "encoding": {"x": {"datum": 70.3, "type": "quantitative"}, "x2": {"datum": 99.6}, "y": {"datum": 0.4, "type": "quantitative"}, "y2": {"datum": 12.2}}},
      {"data": {"name": "auc"}, "transform": [{"filter": "datum.model == 4"}], "mark": {"type": "text", "align": "left", "baseline": "middle", "fontSize": 8, "color": "#222222"}, "encoding": {"x": {"datum": 72.5, "type": "quantitative"}, "y": {"datum": 8.2, "type": "quantitative"}, "text": {"field": "auc"}}},
      {"data": {"name": "auc"}, "transform": [{"filter": "datum.model == 4"}], "mark": {"type": "text", "align": "left", "baseline": "middle", "fontSize": 8, "color": "#222222"}, "encoding": {"x": {"datum": 72.5, "type": "quantitative"}, "y": {"datum": 3.3, "type": "quantitative"}, "text": {"field": "p"}}}
     ]},
    {"title": "Model 5", "width": 199, "height": 198,
     "layer": [
      {"data": {"name": "ci"}, "transform": [{"filter": "datum.model == 5"}], "mark": {"type": "area", "interpolate": "step-after", "color": "#ddebfb"}, "encoding": {"x": {"field": "x", "type": "quantitative", "scale": {"domain": [0, 100]}, "axis": {"title": "Specificity"}}, "y": {"field": "upper", "type": "quantitative", "scale": {"domain": [0, 100]}, "axis": {"title": "Sensitivity"}}, "y2": {"field": "lower"}}},
      {"data": {"name": "ci"}, "transform": [{"filter": "datum.model == 5"}], "mark": {"type": "line", "interpolate": "step-after", "color": "#8ab6e4", "strokeWidth": 1}, "encoding": {"x": {"field": "x", "type": "quantitative"}, "y": {"field": "upper", "type": "quantitative"}}},
      {"data": {"name": "ci"}, "transform": [{"filter": "datum.model == 5"}], "mark": {"type": "line", "interpolate": "step-after", "color": "#8ab6e4", "strokeWidth": 1}, "encoding": {"x": {"field": "x", "type": "quantitative"}, "y": {"field": "lower", "type": "quantitative"}}},
      {"data": {"name": "auc"}, "transform": [{"filter": "datum.model == 5"}], "mark": {"type": "rule", "color": "#e8a6a6", "strokeWidth": 0.8}, "encoding": {"x": {"datum": 0, "type": "quantitative"}, "x2": {"datum": 100}, "y": {"datum": 0, "type": "quantitative"}, "y2": {"datum": 100}}},
      {"data": {"name": "roc"}, "transform": [{"filter": "datum.model == 5"}], "mark": {"type": "line", "interpolate": "step-after", "color": "#1f4f9e", "strokeWidth": 1.8}, "encoding": {"x": {"field": "x", "type": "quantitative"}, "y": {"field": "y", "type": "quantitative"}}},
      {"data": {"name": "auc"}, "transform": [{"filter": "datum.model == 5"}], "mark": {"type": "rect", "fill": "white", "stroke": "#555555", "strokeWidth": 1.2}, "encoding": {"x": {"datum": 70.3, "type": "quantitative"}, "x2": {"datum": 99.6}, "y": {"datum": 0.4, "type": "quantitative"}, "y2": {"datum": 12.2}}},
      {"data": {"name": "auc"}, "transform": [{"filter": "datum.model == 5"}], "mark": {"type": "text", "align": "left", "baseline": "middle", "fontSize": 8, "color": "#222222"}, "encoding": {"x": {"datum": 72.5, "type": "quantitative"}, "y": {"datum": 8.2, "type": "quantitative"}, "text": {"field": "auc"}}},
      {"data": {"name": "auc"}, "transform": [{"filter": "datum.model == 5"}], "mark": {"type": "text", "align": "left", "baseline": "middle", "fontSize": 8, "color": "#222222"}, "encoding": {"x": {"datum": 72.5, "type": "quantitative"}, "y": {"datum": 3.3, "type": "quantitative"}, "text": {"field": "p"}}}
     ]},
    {"title": "Model 6", "width": 199, "height": 198,
     "layer": [
      {"data": {"name": "ci"}, "transform": [{"filter": "datum.model == 6"}], "mark": {"type": "area", "interpolate": "step-after", "color": "#ddebfb"}, "encoding": {"x": {"field": "x", "type": "quantitative", "scale": {"domain": [0, 100]}, "axis": {"title": "Specificity"}}, "y": {"field": "upper", "type": "quantitative", "scale": {"domain": [0, 100]}, "axis": {"title": "Sensitivity"}}, "y2": {"field": "lower"}}},
      {"data": {"name": "ci"}, "transform": [{"filter": "datum.model == 6"}], "mark": {"type": "line", "interpolate": "step-after", "color": "#8ab6e4", "strokeWidth": 1}, "encoding": {"x": {"field": "x", "type": "quantitative"}, "y": {"field": "upper", "type": "quantitative"}}},
      {"data": {"name": "ci"}, "transform": [{"filter": "datum.model == 6"}], "mark": {"type": "line", "interpolate": "step-after", "color": "#8ab6e4", "strokeWidth": 1}, "encoding": {"x": {"field": "x", "type": "quantitative"}, "y": {"field": "lower", "type": "quantitative"}}},
      {"data": {"name": "auc"}, "transform": [{"filter": "datum.model == 6"}], "mark": {"type": "rule", "color": "#e8a6a6", "strokeWidth": 0.8}, "encoding": {"x": {"datum": 0, "type": "quantitative"}, "x2": {"datum": 100}, "y": {"datum": 0, "type": "quantitative"}, "y2": {"datum": 100}}},
      {"data": {"name": "roc"}, "transform": [{"filter": "datum.model == 6"}], "mark": {"type": "line", "interpolate": "step-after", "color": "#1f4f9e", "strokeWidth": 1.8}, "encoding": {"x": {"field": "x", "type": "quantitative"}, "y": {"field": "y", "type": "quantitative"}}},
      {"data": {"name": "auc"}, "transform": [{"filter": "datum.model == 6"}], "mark": {"type": "rect", "fill": "white", "stroke": "#555555", "strokeWidth": 1.2}, "encoding": {"x": {"datum": 70.3, "type": "quantitative"}, "x2": {"datum": 99.6}, "y": {"datum": 0.4, "type": "quantitative"}, "y2": {"datum": 12.2}}},
      {"data": {"name": "auc"}, "transform": [{"filter": "datum.model == 6"}], "mark": {"type": "text", "align": "left", "baseline": "middle", "fontSize": 8, "color": "#222222"}, "encoding": {"x": {"datum": 72.5, "type": "quantitative"}, "y": {"datum": 8.2, "type": "quantitative"}, "text": {"field": "auc"}}},
      {"data": {"name": "auc"}, "transform": [{"filter": "datum.model == 6"}], "mark": {"type": "text", "align": "left", "baseline": "middle", "fontSize": 8, "color": "#222222"}, "encoding": {"x": {"datum": 72.5, "type": "quantitative"}, "y": {"datum": 3.3, "type": "quantitative"}, "text": {"field": "p"}}}
     ]},
    {"title": "Model 7", "width": 199, "height": 198,
     "layer": [
      {"data": {"name": "ci"}, "transform": [{"filter": "datum.model == 7"}], "mark": {"type": "area", "interpolate": "step-after", "color": "#ddebfb"}, "encoding": {"x": {"field": "x", "type": "quantitative", "scale": {"domain": [0, 100]}, "axis": {"title": "Specificity"}}, "y": {"field": "upper", "type": "quantitative", "scale": {"domain": [0, 100]}, "axis": {"title": "Sensitivity"}}, "y2": {"field": "lower"}}},
      {"data": {"name": "ci"}, "transform": [{"filter": "datum.model == 7"}], "mark": {"type": "line", "interpolate": "step-after", "color": "#8ab6e4", "strokeWidth": 1}, "encoding": {"x": {"field": "x", "type": "quantitative"}, "y": {"field": "upper", "type": "quantitative"}}},
      {"data": {"name": "ci"}, "transform": [{"filter": "datum.model == 7"}], "mark": {"type": "line", "interpolate": "step-after", "color": "#8ab6e4", "strokeWidth": 1}, "encoding": {"x": {"field": "x", "type": "quantitative"}, "y": {"field": "lower", "type": "quantitative"}}},
      {"data": {"name": "auc"}, "transform": [{"filter": "datum.model == 7"}], "mark": {"type": "rule", "color": "#e8a6a6", "strokeWidth": 0.8}, "encoding": {"x": {"datum": 0, "type": "quantitative"}, "x2": {"datum": 100}, "y": {"datum": 0, "type": "quantitative"}, "y2": {"datum": 100}}},
      {"data": {"name": "roc"}, "transform": [{"filter": "datum.model == 7"}], "mark": {"type": "line", "interpolate": "step-after", "color": "#1f4f9e", "strokeWidth": 1.8}, "encoding": {"x": {"field": "x", "type": "quantitative"}, "y": {"field": "y", "type": "quantitative"}}},
      {"data": {"name": "auc"}, "transform": [{"filter": "datum.model == 7"}], "mark": {"type": "rect", "fill": "white", "stroke": "#555555", "strokeWidth": 1.2}, "encoding": {"x": {"datum": 70.3, "type": "quantitative"}, "x2": {"datum": 99.6}, "y": {"datum": 0.4, "type": "quantitative"}, "y2": {"datum": 12.2}}},
      {"data": {"name": "auc"}, "transform": [{"filter": "datum.model == 7"}], "mark": {"type": "text", "align": "left", "baseline": "middle", "fontSize": 8, "color": "#222222"}, "encoding": {"x": {"datum": 72.5, "type": "quantitative"}, "y": {"datum": 8.2, "type": "quantitative"}, "text": {"field": "auc"}}},
      {"data": {"name": "auc"}, "transform": [{"filter": "datum.model == 7"}], "mark": {"type": "text", "align": "left", "baseline": "middle", "fontSize": 8, "color": "#222222"}, "encoding": {"x": {"datum": 72.5, "type": "quantitative"}, "y": {"datum": 3.3, "type": "quantitative"}, "text": {"field": "p"}}}
     ]},
    {"title": "Model 8", "width": 199, "height": 198,
     "layer": [
      {"data": {"name": "ci"}, "transform": [{"filter": "datum.model == 8"}], "mark": {"type": "area", "interpolate": "step-after", "color": "#ddebfb"}, "encoding": {"x": {"field": "x", "type": "quantitative", "scale": {"domain": [0, 100]}, "axis": {"title": "Specificity"}}, "y": {"field": "upper", "type": "quantitative", "scale": {"domain": [0, 100]}, "axis": {"title": "Sensitivity"}}, "y2": {"field": "lower"}}},
      {"data": {"name": "ci"}, "transform": [{"filter": "datum.model == 8"}], "mark": {"type": "line", "interpolate": "step-after", "color": "#8ab6e4", "strokeWidth": 1}, "encoding": {"x": {"field": "x", "type": "quantitative"}, "y": {"field": "upper", "type": "quantitative"}}},
      {"data": {"name": "ci"}, "transform": [{"filter": "datum.model == 8"}], "mark": {"type": "line", "interpolate": "step-after", "color": "#8ab6e4", "strokeWidth": 1}, "encoding": {"x": {"field": "x", "type": "quantitative"}, "y": {"field": "lower", "type": "quantitative"}}},
      {"data": {"name": "auc"}, "transform": [{"filter": "datum.model == 8"}], "mark": {"type": "rule", "color": "#e8a6a6", "strokeWidth": 0.8}, "encoding": {"x": {"datum": 0, "type": "quantitative"}, "x2": {"datum": 100}, "y": {"datum": 0, "type": "quantitative"}, "y2": {"datum": 100}}},
      {"data": {"name": "roc"}, "transform": [{"filter": "datum.model == 8"}], "mark": {"type": "line", "interpolate": "step-after", "color": "#1f4f9e", "strokeWidth": 1.8}, "encoding": {"x": {"field": "x", "type": "quantitative"}, "y": {"field": "y", "type": "quantitative"}}},
      {"data": {"name": "auc"}, "transform": [{"filter": "datum.model == 8"}], "mark": {"type": "rect", "fill": "white", "stroke": "#555555", "strokeWidth": 1.2}, "encoding": {"x": {"datum": 70.3, "type": "quantitative"}, "x2": {"datum": 99.6}, "y": {"datum": 0.4, "type": "quantitative"}, "y2": {"datum": 12.2}}},
      {"data": {"name": "auc"}, "transform": [{"filter": "datum.model == 8"}], "mark": {"type": "text", "align": "left", "baseline": "middle", "fontSize": 8, "color": "#222222"}, "encoding": {"x": {"datum": 72.5, "type": "quantitative"}, "y": {"datum": 8.2, "type": "quantitative"}, "text": {"field": "auc"}}},
      {"data": {"name": "auc"}, "transform": [{"filter": "datum.model == 8"}], "mark": {"type": "text", "align": "left", "baseline": "middle", "fontSize": 8, "color": "#222222"}, "encoding": {"x": {"datum": 72.5, "type": "quantitative"}, "y": {"datum": 3.3, "type": "quantitative"}, "text": {"field": "p"}}}
     ]},
    {"title": "Model 9", "width": 199, "height": 198,
     "layer": [
      {"data": {"name": "ci"}, "transform": [{"filter": "datum.model == 9"}], "mark": {"type": "area", "interpolate": "step-after", "color": "#ddebfb"}, "encoding": {"x": {"field": "x", "type": "quantitative", "scale": {"domain": [0, 100]}, "axis": {"title": "Specificity"}}, "y": {"field": "upper", "type": "quantitative", "scale": {"domain": [0, 100]}, "axis": {"title": "Sensitivity"}}, "y2": {"field": "lower"}}},
      {"data": {"name": "ci"}, "transform": [{"filter": "datum.model == 9"}], "mark": {"type": "line", "interpolate": "step-after", "color": "#8ab6e4", "strokeWidth": 1}, "encoding": {"x": {"field": "x", "type": "quantitative"}, "y": {"field": "upper", "type": "quantitative"}}},
      {"data": {"name": "ci"}, "transform": [{"filter": "datum.model == 9"}], "mark": {"type": "line", "interpolate": "step-after", "color": "#8ab6e4", "strokeWidth": 1}, "encoding": {"x": {"field": "x", "type": "quantitative"}, "y": {"field": "lower", "type": "quantitative"}}},
      {"data": {"name": "auc"}, "transform": [{"filter": "datum.model == 9"}], "mark": {"type": "rule", "color": "#e8a6a6", "strokeWidth": 0.8}, "encoding": {"x": {"datum": 0, "type": "quantitative"}, "x2": {"datum": 100}, "y": {"datum": 0, "type": "quantitative"}, "y2": {"datum": 100}}},
      {"data": {"name": "roc"}, "transform": [{"filter": "datum.model == 9"}], "mark": {"type": "line", "interpolate": "step-after", "color": "#1f4f9e", "strokeWidth": 1.8}, "encoding": {"x": {"field": "x", "type": "quantitative"}, "y": {"field": "y", "type": "quantitative"}}},
      {"data": {"name": "auc"}, "transform": [{"filter": "datum.model == 9"}], "mark": {"type": "rect", "fill": "white", "stroke": "#555555", "strokeWidth": 1.2}, "encoding": {"x": {"datum": 70.3, "type": "quantitative"}, "x2": {"datum": 99.6}, "y": {"datum": 0.4, "type": "quantitative"}, "y2": {"datum": 12.2}}},
      {"data": {"name": "auc"}, "transform": [{"filter": "datum.model == 9"}], "mark": {"type": "text", "align": "left", "baseline": "middle", "fontSize": 8, "color": "#222222"}, "encoding": {"x": {"datum": 72.5, "type": "quantitative"}, "y": {"datum": 8.2, "type": "quantitative"}, "text": {"field": "auc"}}},
      {"data": {"name": "auc"}, "transform": [{"filter": "datum.model == 9"}], "mark": {"type": "text", "align": "left", "baseline": "middle", "fontSize": 8, "color": "#222222"}, "encoding": {"x": {"datum": 72.5, "type": "quantitative"}, "y": {"datum": 3.3, "type": "quantitative"}, "text": {"field": "p"}}}
     ]}
  ],
  "config": {
    "font": "Liberation Sans",
    "view": {"stroke": null},
    "title": {"font": "Liberation Sans", "fontSize": 8, "fontWeight": "normal", "color": "#222222", "offset": 5},
    "text": {"font": "Liberation Sans"},
    "axis": {
      "offset": 6,
      "tickCount": 20,
      "domainColor": "#6b6b6b",
      "domainWidth": 1.6,
      "tickColor": "#6b6b6b",
      "tickWidth": 1,
      "tickSize": {"condition": {"test": "datum.value % 20 == 0", "value": -4}, "value": -2.5},
      "gridColor": "#e3e3e3",
      "gridWidth": 0.8,
      "gridOpacity": {"condition": {"test": "datum.value % 20 == 0", "value": 1}, "value": 0},
      "labelExpr": "datum.value % 20 == 0 ? datum.label : ''",
      "labelFont": "Liberation Sans",
      "labelFontSize": 7.5,
      "labelColor": "#333333",
      "labelFlush": false,
      "labelOverlap": false,
      "titleFont": "Liberation Sans",
      "titleFontSize": 8,
      "titleFontWeight": "normal",
      "titleColor": "#222222"
    },
    "axisY": {"titlePadding": 9, "labelPadding": 6},
    "axisX": {"titlePadding": 4, "labelPadding": 7}
  }
}
